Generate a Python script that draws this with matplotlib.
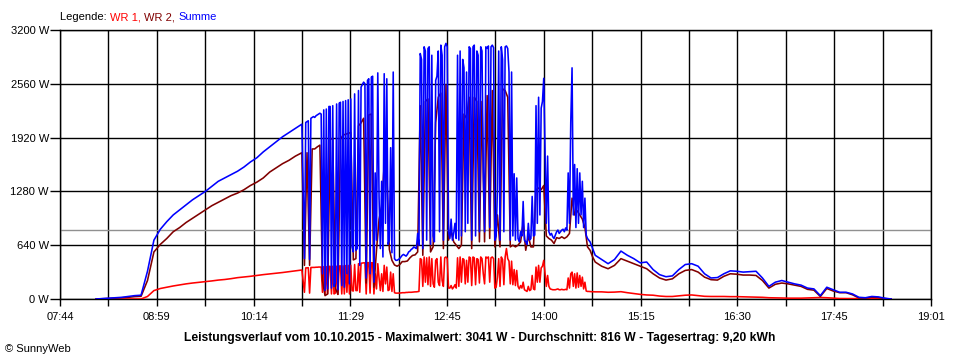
import numpy as np
import matplotlib
matplotlib.use('Agg')
import matplotlib.pyplot as plt

plt.rcParams['font.family'] = ['Liberation Sans', 'DejaVu Sans']

# sample times in minutes since midnight
t_morning = np.arange(492, 653, 5)        # 08:12 .. 10:52, 5 min
t_clouds = np.arange(654, 881)            # 10:54 .. 14:40, 1 min
t_clouds_wr2 = np.arange(654, 881, 2)     # WR 2 logged every 2 min there
t_evening = np.arange(885, 1111, 5)       # 14:45 .. 18:30, 5 min

# Summe (W)
summe_morning = [0, 5, 10, 15, 20, 30, 40, 45, 330, 700, 830, 920, 1000, 1060, 1120, 1180, 1230,
                 1280, 1340, 1400, 1440, 1480, 1520, 1570, 1630, 1680, 1750, 1810, 1870, 1930,
                 1980, 2030, 2080]
summe_clouds = [480, 2100, 2110, 2120, 470, 2150, 2160, 2170, 2160, 2180,
                2190, 2200, 2210, 2200, 300, 2250, 100, 2260, 120, 2290,
                2290, 130, 2300, 150, 200, 2320, 110, 2330, 2340, 160,
                2350, 140, 2360, 300, 2370, 180, 2380, 620, 560, 2440,
                580, 600, 2480, 400, 2520, 2550, 2580, 2560, 250, 2600,
                2620, 300, 2640, 2650, 200, 1500, 700, 2690, 1200, 600,
                1400, 500, 2680, 900, 2620, 650, 700, 1800, 550, 2700,
                480, 460, 460, 470, 480, 500, 520, 530, 520, 510,
                530, 560, 570, 590, 600, 620, 610, 600, 780, 640,
                2920, 2850, 600, 3000, 2950, 700, 2980, 3000, 650, 2900,
                750, 680, 2600, 2650, 2950, 800, 3020, 2900, 700, 3000,
                3041, 3000, 800, 720, 950, 700, 780, 900, 720, 2900,
                700, 2950, 750, 2850, 2750, 800, 2700, 900, 3000, 2980,
                700, 3000, 3020, 750, 2950, 2900, 800, 3000, 2950, 1500,
                800, 3000, 2980, 3010, 850, 3000, 3020, 2990, 700, 750,
                1300, 2950, 700, 3000, 2850, 800, 3000, 3010, 2980, 2700,
                700, 2700, 750, 1490, 700, 1440, 720, 680, 800, 750,
                1160, 700, 680, 650, 900, 700, 720, 1220, 750, 760,
                2300, 900, 2400, 1000, 2270, 2350, 2625, 1750, 900, 1700,
                800, 760, 780, 740, 720, 760, 800, 820, 780, 800,
                820, 830, 800, 845, 820, 1500, 900, 2100, 2750, 1000,
                1600, 850, 1550, 900, 1500, 1000, 1400, 850, 1200, 760,
                720, 700, 680, 640, 600, 560, 520]
summe_evening = [470, 420, 470, 570, 520, 480, 430, 440, 350, 290, 265, 275, 350, 410, 420, 390,
                 300, 250, 255, 300, 335, 330, 320, 325, 330, 250, 150, 200, 220, 200, 180, 165,
                 130, 120, 40, 140, 110, 80, 80, 60, 20, 15, 30, 25, 10, 0]

# WR 2 (W)
wr2_morning = [0, 3, 6, 10, 15, 20, 28, 32, 220, 560, 650, 720, 800, 850, 910, 960, 1010, 1060,
               1110, 1150, 1190, 1230, 1260, 1300, 1350, 1390, 1440, 1510, 1560, 1610, 1650,
               1700, 1740]
wr2_clouds = [400, 1740, 400, 1785, 1785, 1810, 1830, 220, 40, 60,
              1900, 1910, 130, 55, 1900, 1950, 1960, 1970, 1980, 465,
              480, 2060, 2095, 2150, 190, 2190, 2200, 140, 580, 950,
              1100, 1600, 1500, 590, 460, 405, 390, 408, 445, 445,
              452, 490, 518, 525, 560, 2300, 520, 2350, 2380, 560,
              620, 2100, 2400, 2450, 600, 2550, 700, 800, 680, 640,
              600, 640, 2200, 2150, 2400, 600, 2400, 2350, 680, 2350,
              680, 2420, 720, 2480, 620, 1000, 620, 2500, 2480, 2400,
              620, 640, 620, 640, 680, 900, 580, 750, 620, 620,
              1300, 1320, 1300, 1350, 750, 720, 700, 660, 730, 720,
              740, 720, 740, 780, 1200, 1000, 1050, 1000, 950, 850,
              620, 580, 500, 440]
wr2_evening = [390, 360, 400, 480, 450, 420, 390, 360, 300, 250, 225, 240, 300, 340, 350, 320,
               260, 230, 225, 270, 300, 295, 285, 285, 280, 220, 130, 175, 190, 180, 165, 150,
               115, 105, 30, 125, 95, 75, 75, 50, 12, 10, 22, 18, 5, 0]

# WR 1 (W)
wr1_morning = [0, 0, 0, 0, 0, 0, 0, 0, 30, 100, 125, 140, 155, 168, 180, 190, 198, 206, 215, 225,
               232, 242, 254, 262, 270, 280, 290, 298, 306, 315, 325, 335, 345]
wr1_clouds = [80, 370, 370, 372, 70, 375, 375, 376, 376, 378,
              378, 380, 380, 380, 80, 385, 60, 385, 60, 388,
              388, 60, 390, 60, 70, 390, 55, 392, 394, 60,
              395, 60, 398, 80, 400, 60, 402, 100, 95, 410,
              100, 100, 420, 80, 425, 428, 430, 430, 60, 432,
              432, 70, 432, 430, 60, 300, 120, 420, 250, 100,
              300, 90, 400, 180, 380, 100, 110, 320, 90, 300,
              75, 70, 70, 70, 72, 72, 75, 75, 75, 78,
              78, 80, 80, 80, 82, 84, 85, 85, 88, 90,
              480, 470, 150, 500, 200, 490, 170, 500, 150, 480,
              180, 140, 460, 480, 200, 160, 500, 220, 150, 490,
              500, 480, 130, 130, 160, 120, 140, 170, 130, 490,
              150, 500, 200, 480, 470, 180, 460, 200, 500, 490,
              160, 500, 490, 170, 480, 470, 190, 500, 480, 300,
              180, 500, 490, 500, 200, 490, 500, 480, 130, 140,
              260, 480, 150, 500, 470, 170, 500, 600, 480, 450,
              180, 450, 170, 350, 160, 340, 150, 120, 160, 130,
              200, 110, 100, 90, 150, 100, 110, 280, 120, 110,
              380, 200, 400, 200, 370, 390, 460, 300, 150, 280,
              150, 120, 115, 110, 110, 110, 115, 120, 110, 110,
              115, 110, 110, 115, 110, 250, 130, 300, 320, 150,
              300, 130, 310, 140, 280, 150, 260, 120, 200, 95,
              90, 90, 88, 87, 86, 85, 85]
wr1_evening = [85, 80, 82, 87, 75, 65, 55, 48, 45, 35, 30, 30, 38, 45, 48, 40, 32, 30, 30, 30,
               28, 28, 26, 25, 22, 20, 15, 14, 12, 10, 10, 10, 12, 15, 18, 15, 10, 6, 5, 5, 5, 8,
               10, 8, 3, 0]

average_w = 816
x_labels = ['07:44', '08:59', '10:14', '11:29', '12:45', '14:00', '15:15', '16:30', '17:45', '19:01']
y_ticks = [0, 640, 1280, 1920, 2560, 3200]

t_full = np.concatenate([t_morning, t_clouds, t_evening])
t_wr2 = np.concatenate([t_morning, t_clouds_wr2, t_evening])
wr1 = np.concatenate([wr1_morning, wr1_clouds, wr1_evening])
wr2 = np.concatenate([wr2_morning, wr2_clouds, wr2_evening])
summe = np.concatenate([summe_morning, summe_clouds, summe_evening])

fig = plt.figure(figsize=(9.6, 3.6), dpi=100)
ax = fig.add_axes([60 / 960, 61 / 360, 871 / 960, 269 / 360])

# grid: 18 equal steps over the day, labels on every second one
grid_x = np.linspace(464, 1141, 19)
ax.set_xlim(464, 1141)
ax.set_ylim(0, 3200)
ax.set_xticks(grid_x)
ax.set_xticklabels([x_labels[i // 2] if i % 2 == 0 else '' for i in range(19)])
ax.set_yticks(y_ticks)
ax.set_yticklabels([f'{v} W' for v in y_ticks])
ax.grid(True, color='black', linewidth=1.0)
ax.set_axisbelow(True)
for s in ax.spines.values():
    s.set_color('black')
    s.set_linewidth(1.0)
ax.tick_params(axis='x', length=5, width=1.0, pad=4, labelsize=8)
ax.tick_params(axis='y', length=7, width=1.0, pad=1, labelsize=8)

ax.axhline(average_w, color='#909090', linewidth=1.0, zorder=1.5)

ax.plot(t_full, wr1, color='#ff0000', linewidth=1.15, zorder=3)
ax.plot(t_wr2, wr2, color='#800000', linewidth=1.15, zorder=4)
ax.plot(t_full, summe, color='#0000ff', linewidth=1.15, zorder=5)

# legend line on top, coloured word by word
prev = fig.text(60.5 / 960, (360 - 20.5) / 360, 'Legende: ', fontsize=8, va='baseline')
for s, c in [('WR 1, ', '#ff0000'), ('WR 2, ', '#800000'), ('Summe', '#0000ff')]:
    prev = ax.annotate(s, xy=(1, 0), xycoords=prev, fontsize=8, color=c,
                       va='bottom', ha='left', annotation_clip=False)

fig.text(0.5, 19 / 360,
         'Leistungsverlauf vom 10.10.2015 - Maximalwert: 3041 W - Durchschnitt: 816 W - Tagesertrag: 9,20 kWh',
         fontsize=8.7, fontweight='bold', ha='center', va='baseline')
fig.text(5 / 960, 8 / 360, '\u00a9 SunnyWeb', fontsize=8, va='baseline')

fig.savefig('out.png', dpi=100)
